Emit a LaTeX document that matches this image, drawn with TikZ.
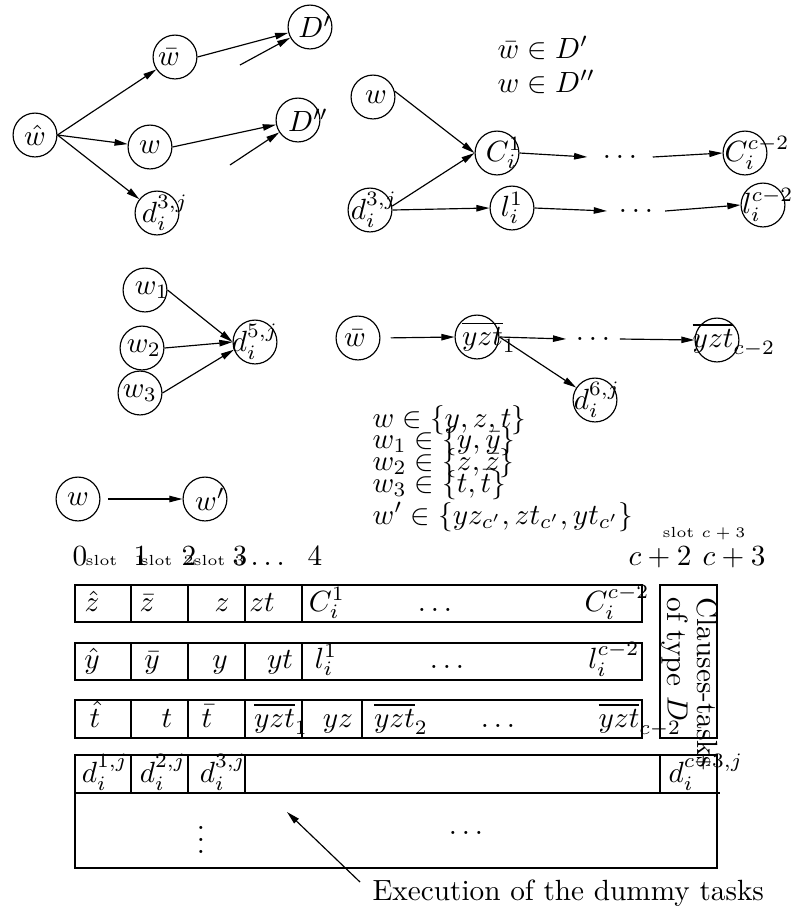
\documentclass[tikz,border=0pt]{standalone}
\usetikzlibrary{arrows.meta}
\newlength\pxu \setlength\pxu{0.342pt}
\newcommand\tx[2][0]{\makebox[0pt]{\hspace*{#1\pxu}\hspace*{#1\pxu}$#2$}}
\begin{document}
\begin{tikzpicture}[x=0.342pt,y=-0.342pt,
  circ/.style={circle,draw,minimum size=15pt,inner sep=0pt},
  arr/.style={-{Triangle[length=4.5pt,width=2.2pt]}},
  txt/.style={inner sep=0pt,anchor=base},
  txtl/.style={inner sep=0pt,anchor=base west},
  dotsn/.style={inner sep=0pt,minimum height=6pt},
  sm/.style={inner sep=0pt,anchor=base west,font=\tiny},
]
\useasboundingbox (0,0) rectangle (794,916);

% ---------- top left
\node[circ] (hw) at (35,135) {\tx{\hat w}};
\node[circ] (wb) at (175,57) {\tx[-6]{\bar w}};
\node[circ] (ww) at (150,147) {\tx{w}};
\node[circ] (da) at (157,213) {\tx[8]{d_i^{3,j}}};
\node[circ] (Dp) at (310,27) {\tx[5]{D'}};
\node[circ] (Dpp) at (298,120) {\tx[10]{D''}};
\coordinate (fa) at (240,65);
\coordinate (fb) at (230,165);
\draw[arr] (hw.east) -- (wb);
\draw[arr] (hw.east) -- (ww);
\draw[arr] (hw.east) -- (da);
\draw[arr] (wb.east) -- (Dp);
\draw[arr] (fa) -- (Dp);
\draw[arr] (ww.east) -- (Dpp);
\draw[arr] (fb) -- (Dpp);

% ---------- top right
\node[txtl] (ta) at (497,58) {$\bar w \in D'$};
\node[txtl] (tb) at (497,92) {$w \in D''$};
\node[circ] (wc) at (373,97) {\tx[3]{w}};
\node[circ] (C1) at (497,153) {\tx[7]{C_i^1}};
\node[circ] (db) at (370,210) {\tx[4]{d_i^{3,j}}};
\node[circ] (l1) at (512,208) {\tx{l_i^1}};
\node[dotsn,minimum width=22pt] (dA) at (620,157) {$\ldots$};
\node[circ] (Cc) at (745,153) {\tx[12]{C_i^{c-2}}};
\node[dotsn,minimum width=19.5pt] (dB) at (636,211) {$\ldots$};
\node[circ] (lc) at (763,205) {\tx[5]{l_i^{c-2}}};
\draw[arr] (wc.15) -- (C1.west);
\draw[arr] (db.10) -- (C1.west);
\draw[arr] (db.east) -- (l1.west);
\draw[arr] (C1.east) -- (dA.west);
\draw[arr] (dA.east) -- (Cc.west);
\draw[arr] (l1.east) -- (dB.west);
\draw[arr] (dB.east) -- (lc.west);

% ---------- middle left
\node[circ] (w1) at (145,290) {\tx[7]{w_1}};
\node[circ] (w2) at (142,348) {\tx[2]{w_2}};
\node[circ] (w3) at (140,393) {\tx{w_3}};
\node[circ] (d5) at (255,342) {\tx{d_i^{5,j}}};
\draw[arr] (w1.east) -- (d5.west);
\draw[arr] (w2.east) -- (d5.west);
\draw[arr] (w3.east) -- (d5.200);

% ---------- middle right
\node[circ] (wm) at (358,338) {\tx[-3]{\bar w}};
\node[circ] (y1) at (477,337) {\tx[12]{\overline{yzt}_1}};
\node[dotsn,minimum width=18pt] (dC) at (593,339) {$\ldots$};
\node[circ] (yc) at (717,340) {\tx[17]{\overline{yzt}_{c-2}}};
\node[circ] (d6) at (595,400) {\tx[2]{d_i^{6,j}}};
\draw[arr,shorten <=3.5pt] (wm.east) -- (y1.west);
\draw[arr] (y1.east) -- (dC.west);
\draw[arr] (dC.east) -- (yc.west);
\draw[arr] (y1.east) -- (d6);

% ---------- text block
\node[txtl] (s1) at (372,427) {$w \in \{y, z, t\}$};
\node[txtl] (s2) at (372,448) {$w_1 \in \{y, \bar y\}$};
\node[txtl] (s3) at (372,470) {$w_2 \in \{z, \bar z\}$};
\node[txtl] (s4) at (372,492) {$w_3 \in \{t, \bar t\}$};
\node[txtl] (s5) at (372,524) {$w' \in \{yz_{c'}, zt_{c'}, yt_{c'}\}$};

% ---------- w -> w'
\node[circ] (wl) at (78,499) {\tx{w}};
\node[circ] (wr) at (205,499) {\tx[5]{w'}};
\draw[arr,shorten <=2.5pt] (wl.east) -- (wr.west);

% ---------- header
\node[txtl] (h0) at (72,565) {$0$};
\node[sm] (hs1) at (85,565) {slot};
\node[txtl] (h1) at (133,565) {$1$};
\node[sm] (hn1) at (134,565) {$1$};
\node[sm] (hs2) at (140,565) {slot};
\node[txtl] (h2) at (181,565) {$2$};
\node[sm] (hn2) at (183,565) {$2$};
\node[sm] (hs3) at (193,565) {slot};
\node[txtl] (h3) at (232,565) {$3$};
\node[sm] (hn3) at (234,565) {$3$};
\node[txtl] (hd) at (250,565) {$\ldots$};
\node[txtl] (h4) at (307,565) {$4$};
\node[sm] (hsc) at (662,537) {slot $c+3$};
\node[txtl] (hc2) at (628,565) {$c+2$};
\node[txtl] (hc3) at (702,565) {$c+3$};

% ---------- table
\draw (75,585) rectangle (642,622);
\foreach \x in {131,188,245,302} \draw (\x,585) -- (\x,622);
\draw (75,643) rectangle (642,680);
\foreach \x in {131,188,245,302} \draw (\x,643) -- (\x,680);
\draw (75,700) rectangle (642,738);
\foreach \x in {131,188,245,302,362} \draw (\x,700) -- (\x,738);
\draw (660,585) rectangle (717,738);
\draw (75,755) rectangle (717,793);
\foreach \x in {131,188,245,660} \draw (\x,755) -- (\x,793);
\draw (75,793) rectangle (717,868);
\draw (717,793) -- (720,793);

\node[txt] (a1) at (92,611) {$\hat z$};
\node[txt] (a2) at (147,611) {$\bar z$};
\node[txt] (a3) at (222,611) {$z$};
\node[txt] (a4) at (262,611) {$zt$};
\node[txt] (a5) at (327,611) {$C_i^1$};
\node[txt] (a6) at (435,611) {$\ldots$};
\node[txt] (a7) at (617,611) {$C_i^{c-2}$};

\node[txt] (b1) at (92,668) {$\hat y$};
\node[txt] (b2) at (152,668) {$\bar y$};
\node[txt] (b3) at (220,668) {$y$};
\node[txt] (b4) at (280,668) {$yt$};
\node[txt] (b5) at (326,668) {$l_i^1$};
\node[txt] (b6) at (447,668) {$\ldots$};
\node[txt] (b7) at (614,668) {$l_i^{c-2}$};

\node[txt] (c1) at (95,727) {$\hat t$};
\node[txt] (c2) at (167,727) {$t$};
\node[txt] (c3) at (207,727) {$\bar t$};
\node[txt] (c4) at (281,727) {$\overline{yzt}_1$};
\node[txt] (c5) at (338,727) {$yz$};
\node[txt] (c6) at (401,727) {$\overline{yzt}_2$};
\node[txt] (c7) at (498,727) {$\ldots$};
\node[txtl] (c8) at (598,727) {$\overline{yzt}_{c-2}$};

\node[txt] (e1) at (105,782) {$d_i^{1,j}$};
\node[txt] (e2) at (163,782) {$d_i^{2,j}$};
\node[txt] (e3) at (223,782) {$d_i^{3,j}$};
\node[txtl] (e4) at (668,782) {$d_i^{c+3,j}$};

\node[rotate=-90,anchor=north west,align=left,inner sep=0pt,
  font=\fontsize{10pt}{10.3pt}\selectfont] (cl) at (719,597) {Clauses-tasks\\of type $D$};

\node[inner sep=0pt] (vd) at (201,831) {$\vdots$};
\node[inner sep=0pt] (hdd) at (466,833) {$\ldots$};

\node[txtl] (ex) at (372,900) {Execution of the dummy tasks};
\coordinate (ea) at (360,882);
\coordinate (eb) at (287,812);
\draw[arr] (ea) -- (eb);
\end{tikzpicture}
\end{document}
